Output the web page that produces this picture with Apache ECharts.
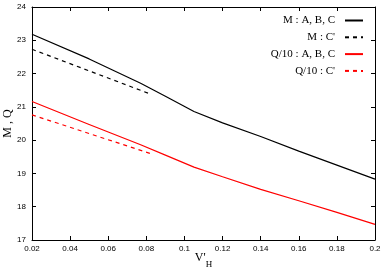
<!DOCTYPE html>
<html><head><meta charset="utf-8">
<script src="https://cdn.jsdelivr.net/npm/echarts@6/dist/echarts.min.js"></script>
<style>html,body{margin:0;padding:0;background:#fff}#c{width:389px;height:273px}</style>
</head><body><div id="c"></div>
<script>
const xTicks = [0.02, 0.04, 0.06, 0.08, 0.1, 0.12, 0.14, 0.16, 0.18, 0.2];
const yTicks = [17, 18, 19, 20, 21, 22, 23, 24];
const seriesNames = ["M : A, B, C", "M : C'", "Q/10 : A, B, C", "Q/10 : C'"];
const mABC_x = [0.02, 0.05, 0.077, 0.09, 0.105, 0.12, 0.14, 0.16, 0.18, 0.2];
const mABC_y = [23.18, 22.44, 21.71, 21.32, 20.86, 20.52, 20.11, 19.67, 19.25, 18.83];
const mC_x = [0.02, 0.081];
const mC_y = [22.73, 21.41];
const qABC_x = [0.02, 0.05, 0.077, 0.09, 0.105, 0.12, 0.14, 0.16, 0.18, 0.2];
const qABC_y = [21.16, 20.47, 19.86, 19.55, 19.19, 18.9, 18.52, 18.18, 17.83, 17.47];
const qC_x = [0.02, 0.082];
const qC_y = [20.76, 19.6];

const zip = (xs, ys) => xs.map((x, i) => [x, ys[i]]);
const tickFont = {fontFamily: 'Liberation Sans', fontSize: 8, color: '#000'};
const chart = echarts.init(document.getElementById('c'), null, {renderer: 'canvas'});
const axX = (pos, show) => ({
  type: 'value', position: pos, min: xTicks[0], max: xTicks[xTicks.length - 1], interval: 0.02,
  axisLine: {show: true, lineStyle: {color: '#000', width: 1}},
  axisTick: {show: true, inside: true, length: 4, lineStyle: {color: '#000'}},
  axisLabel: Object.assign({show: show, margin: 5}, tickFont),
  splitLine: {show: false}
});
const axY = (pos, show) => ({
  type: 'value', position: pos, min: yTicks[0], max: yTicks[yTicks.length - 1], interval: 1,
  axisLine: {show: true, lineStyle: {color: '#000', width: 1}},
  axisTick: {show: true, inside: true, length: 4, lineStyle: {color: '#000'}},
  axisLabel: Object.assign({show: show, margin: 6}, tickFont),
  splitLine: {show: false}
});
const xMain = axX('bottom', true);
xMain.name = "{v|V'}{h|H}";
xMain.nameLocation = 'middle';
xMain.nameGap = 12;
xMain.nameMoveOverlap = false;
xMain.nameTextStyle = {rich: {
  v: {fontFamily: 'Liberation Serif', fontSize: 12, color: '#000', padding: [0, 0, 5, 0]},
  h: {fontFamily: 'Liberation Serif', fontSize: 9, color: '#000', verticalAlign: 'bottom'}
}};
const yMain = axY('left', true);
yMain.name = 'M , Q';
yMain.nameLocation = 'middle';
yMain.nameGap = 18;
yMain.nameMoveOverlap = false;
yMain.nameTextStyle = {fontFamily: 'Liberation Serif', fontSize: 12, color: '#000'};
const xTop = axX('top', false);
const yRight = axY('right', false);

const mk = (name, data, color, dashed) => ({
  name: name, type: 'line', data: data, xAxisIndex: 0, yAxisIndex: 0,
  symbol: 'none', smooth: false, animation: false,
  lineStyle: {color: color, width: 1.2, type: dashed ? [4, 4] : 'solid'},
  itemStyle: {color: color}
});
chart.setOption({
  animation: false,
  grid: {left: 32, right: 14, top: 7, bottom: 33, show: false, outerBoundsMode: 'none', containLabel: false},
  legend: {
    orient: 'vertical', right: 25, top: 15, align: 'right', padding: 0,
    itemWidth: 18, itemHeight: 12, itemGap: 5.8,
    itemStyle: {color: 'rgba(0,0,0,0)', borderColor: 'rgba(0,0,0,0)', borderWidth: 0, opacity: 0},
    textStyle: {fontFamily: 'Liberation Serif', fontSize: 11, color: '#000', padding: [0, 5, 0, 0]},
    data: seriesNames
  },
  xAxis: [xMain, xTop],
  yAxis: [yMain, yRight],
  series: [
    mk(seriesNames[0], zip(mABC_x, mABC_y), '#000', false),
    mk(seriesNames[1], zip(mC_x, mC_y), '#000', true),
    mk(seriesNames[2], zip(qABC_x, qABC_y), '#ff0000', false),
    mk(seriesNames[3], zip(qC_x, qC_y), '#ff0000', true)
  ]
});
</script></body></html>
